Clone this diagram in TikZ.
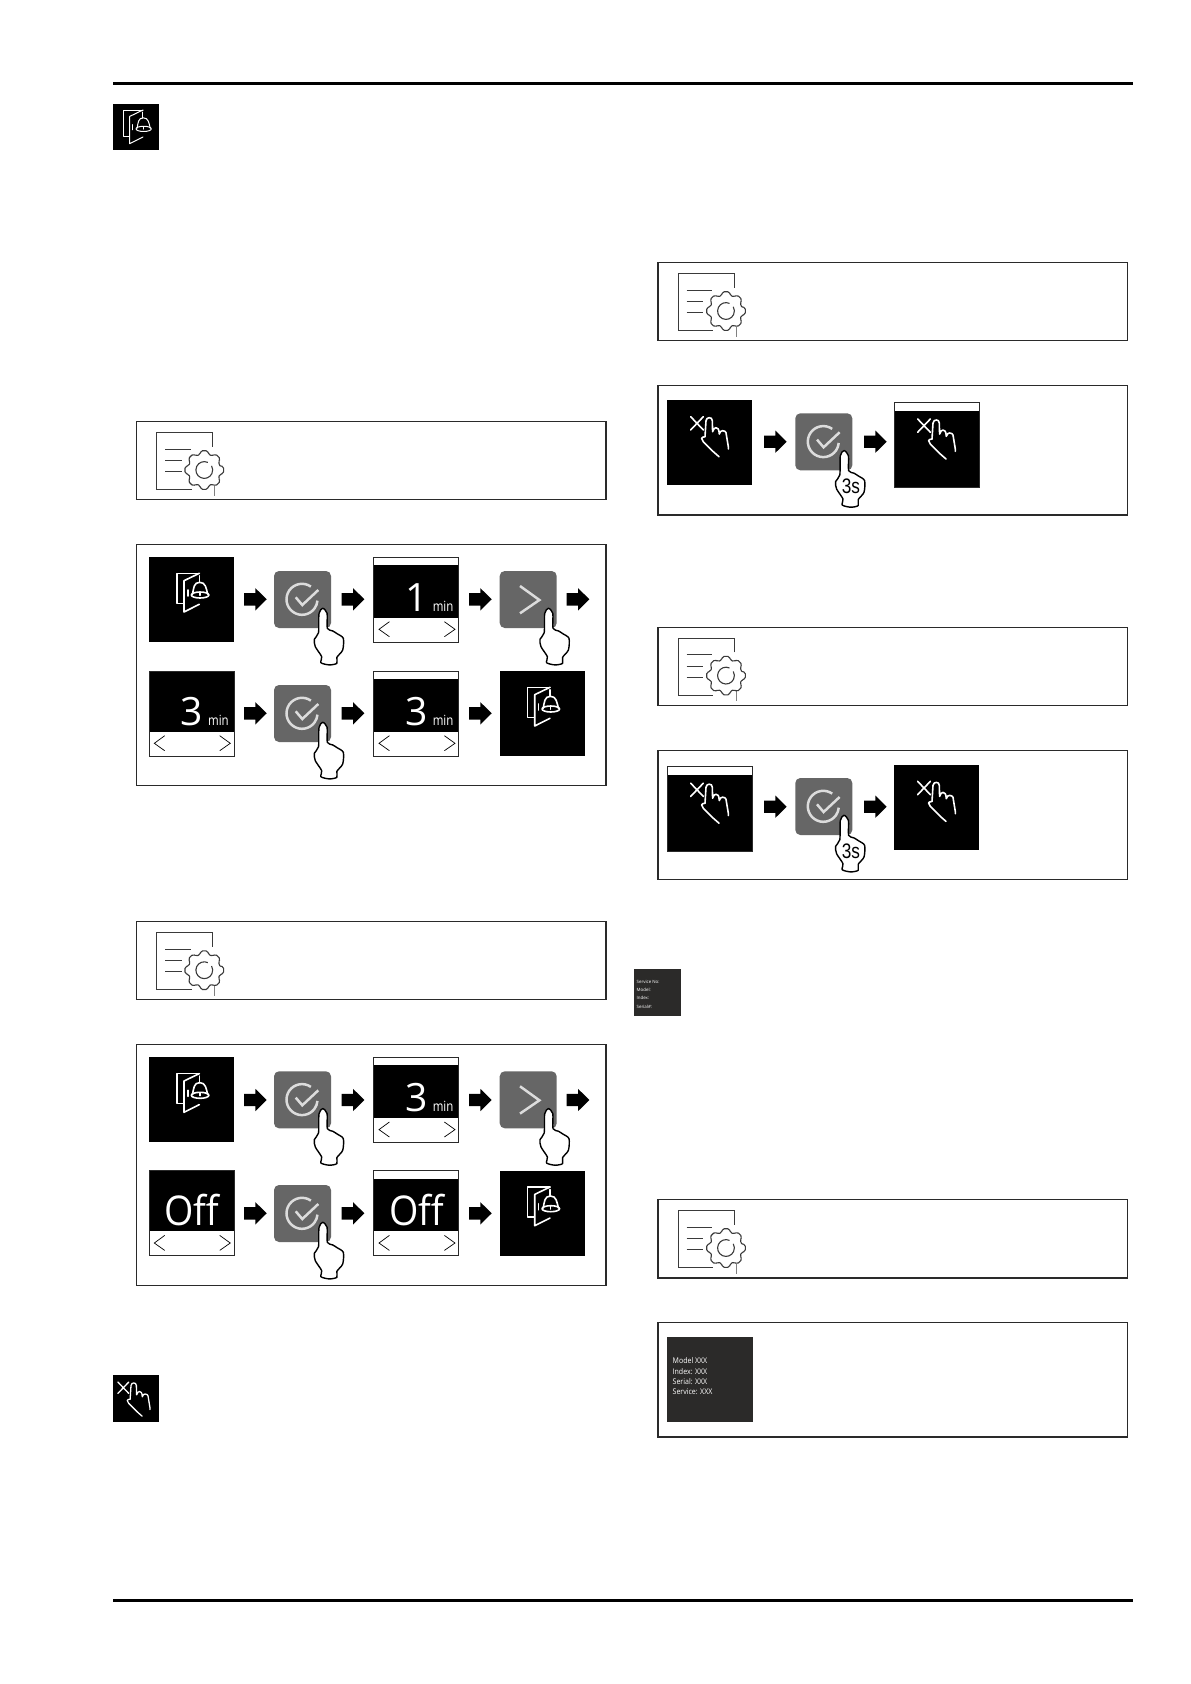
\documentclass[tikz,border=0pt]{standalone}
\usepackage{fontspec}
\setmainfont{Open Sans}
\newfontfamily\labelfont{Liberation Sans}
\definecolor{tilegray}{HTML}{666666}
\definecolor{checkline}{HTML}{DCDCDC}
\definecolor{boxline}{HTML}{2A2A2A}
\definecolor{iconline}{HTML}{3A3A3A}
\definecolor{infotile}{HTML}{2B2A29}
\newcommand{\iconlw}{1.6}
\newcommand{\ScreenBase}[1]{%
  \fill[black] (0,0) rectangle (85,85);
  \fill[white] (0,60.7) rectangle (85,85);
  \ifnum#1=1 \fill[white] (0,0) rectangle (85,8); \fi
  \draw[boxline,line width=.7] (0,0) rectangle (85,85);
  \draw[line width=.7,line join=miter] (15.7,64.7) -- (5.3,72.3) -- (15.7,79.7);
  \draw[line width=.7,line join=miter] (70.7,64.7) -- (81.3,72.3) -- (70.7,79.7);
}
\tikzset{
  x=1pt,y=-1pt,
  framebox/.style={draw=boxline,line width=1.1,fill=white},
  whitetext/.style={text=white,inner sep=0pt,outer sep=0pt},
  whiteicon/.style={draw=white,line width=\iconlw pt,line cap=round,line join=round},
  pics/blockarrow/.style={code={
    \fill[black] (0,-6.2) -- (11.3,-6.2) -- (11.3,-11.2) -- (22.7,0) -- (11.3,11.2) -- (11.3,6.2) -- (0,6.2) -- cycle;
  }},
  pics/docgear/.style={code={
    \draw[iconline,line width=1] (76,25) -- (76,10.7) -- (20,10.7) -- (20,67.7) -- (55.3,67.7);
    \draw[iconline,line width=1] (28.7,27.3) -- (54.3,27.3) (28.7,39) -- (45.3,39) (28.7,50) -- (45.3,50);
    \draw[gray,line width=.5] (78,64) -- (78,74);
    \begin{scope}[shift={(68,48.3)}]
      \draw[iconline,line width=1.1,fill=white,rounded corners=1.6] (-15:16.2)
        \foreach \a in {0,45,...,315}{ -- ({\a-10}:19.6) -- ({\a+10}:19.6) -- ({\a+15}:16.2) -- ({\a+30}:16.2) };
      \draw[iconline,line width=1.1] (-65:8.4) arc[start angle=-65,delta angle=-325,radius=8.4];
    \end{scope}
  }},
  pics/doorbell/.style={code={
    \draw[whiteicon] (6.6,30) -- (0,30) -- (0,0) -- (22.6,0);
    \draw[whiteicon] (22.6,0) -- (7.3,7.4) -- (7.3,38.7) -- (22.6,31);
    \draw[whiteicon] (11,16.7) -- (11,22.7);
    \draw[whiteicon] (22.6,2.5) -- (22.6,9.2);
    \draw[whiteicon] (15.8,21) .. controls (17,15) and (17,9) .. (23,9) .. controls (29,9) and (29.5,15) .. (31,21);
    \draw[whiteicon] (23.4,21.7) ellipse[x radius=8.8,y radius=3];
    \draw[whiteicon] (23.2,19.6) -- (23.2,22);
  }},
  pics/handoff/.style={code={
    \draw[whiteicon] (23.3,16.6) -- (36.1,30) (36.1,16.6) -- (23.3,30);
    \draw[whiteicon] (37.7,36.7) -- (38.7,20.7) .. controls (39,18.5) and (40.5,17.7) .. (42,17.7) .. controls (43.5,17.7) and (45,18.5) .. (45,20.7) -- (45.3,31.7)
       .. controls (46,29) and (47.5,27.7) .. (48.7,27.7) .. controls (50.5,27.7) and (51.7,29) .. (52,34)
       .. controls (52.5,31.5) and (54,30.7) .. (55.3,30.7) .. controls (57,30.7) and (58.3,31.5) .. (58.7,32.7) -- (61,46.7) -- (61,49);
    \draw[whiteicon] (37.7,36.7) .. controls (36,37) and (34.3,37.3) .. (34.3,38.3) .. controls (34.3,39.5) and (35,40.7) .. (36,41.7) -- (46,51.7) -- (51.7,56.7);
  }},
  pics/handpress/.style={code={
    \draw[black,line width=1.4,fill=white,line join=round] plot[smooth cycle,tension=.45] coordinates {
      (48.7,37.3) (45,42.5) (44.5,61.7) (40.3,68.3) (41.3,75.7) (47.7,85.7) (46.9,91.7) (55.3,93.9)
      (62.9,92.3) (62.9,86.3) (68.7,79) (69.3,67.3) (63.3,62.8) (58.7,59.9) (53.3,57.3) (53.1,42.3)};
  }},
  pics/checktile/.style={code={
    \fill[tilegray,rounded corners=5] (0,0) rectangle (57,57);
    \draw[checkline,line width=2.5] (28,28.3) ++(-55:15.5) arc[start angle=-55,delta angle=-300,radius=15.5];
    \draw[checkline,line width=2.5,line join=miter] (21.7,26.3) -- (28.3,34) -- (44.3,19);
  }},
  pics/nexttile/.style={code={
    \fill[tilegray,rounded corners=5] (0,0) rectangle (57,57);
    \draw[checkline,line width=2.5,line join=miter] (20.3,15) -- (39.7,29) -- (20.3,42.3);
  }},
  pics/bellscreen/.style={code={
    \fill[black] (0,0) rectangle (85,85);
    \pic at (27.7,16.3) {doorbell};
  }},
  pics/numscreen/.style n args={2}{code={
    \ScreenBase{#1}
    \node[whitetext,anchor=base] (digit) at (43,54) {\fontsize{39}{39}\selectfont #2};
    \node[whitetext,anchor=base east] (unit) at (79.7,54) {\scalebox{.82}[1]{\fontsize{14}{14}\selectfont min}};
  }},
  pics/offscreen/.style={code={
    \ScreenBase{#1}
    \node[whitetext,anchor=base] (word) at (43,54.3) {\scalebox{.92}[1]{\fontsize{41}{41}\selectfont Off}};
  }},
  pics/xscreen/.style={code={
    \fill[black] (0,0) rectangle (85,85);
    \ifnum#1=1 \fill[white] (0,0) rectangle (85,8.5); \draw[boxline,line width=.7] (0,0) rectangle (85,85); \fi
    \pic at (0,0) {handoff};
  }},
  pics/threesec/.style={code={
    \pic at (0,0) {handpress};
    \node[inner sep=0pt,outer sep=0pt,text=black] (secs) at (55.7,73) {\labelfont\scalebox{.82}[1]{\fontsize{21}{21}\selectfont 3s}};
  }}
}
\begin{document}
\begin{tikzpicture}
\useasboundingbox (0,0) rectangle (1191,1684);
\fill[white] (0,0) rectangle (1191,1684);
% page rules
\draw[black,line width=3] (113.3,83.3) -- (1133.3,83.3);
\draw[black,line width=3] (113.3,1600.3) -- (1133.3,1600.3);
% marginal icons
\fill[black] (113.3,103.8) rectangle (159,149.8);
\begingroup
\renewcommand{\iconlw}{1}
\pic[scale=.87] (margbell) at (123.3,110) {doorbell};
\fill[black] (113.3,1374.6) rectangle (159,1421.8);
\renewcommand{\iconlw}{1.3}
\pic[scale=.85] (marghand) at (98.1,1367.9) {handoff};
\endgroup
\fill[infotile] (634,969) rectangle (681,1016);
\foreach \ty/\tx [count=\i] in {981.7/Service No:,990/Model:,998.3/Index:,1007.3/Serial\#:}
  \node[whitetext,anchor=west] (svc\i) at (636.7,\ty) {\fontsize{4.4}{5}\selectfont \tx};
% left gear boxes
\draw[framebox] (136.3,421.7) rectangle (606,499.3);
\pic (gearA) at (136.3,421.7) {docgear};
\draw[framebox] (136.3,921.9) rectangle (606,999.7);
\pic (gearB) at (136.3,921.9) {docgear};
% set 1
\draw[framebox] (136.3,544.7) rectangle (606,785.3);
\pic (a1) at (149,557) {bellscreen};
\pic at (244,599.3) {blockarrow};
\pic (a2) at (274,571) {checktile};
\pic (a2h) at (274,571) {handpress};
\pic at (341.7,599.3) {blockarrow};
\pic (a3) at (373.7,557) {numscreen={1}{1}};
\pic at (469,599.3) {blockarrow};
\pic (a4) at (499.7,571) {nexttile};
\pic (a4h) at (499.7,571) {handpress};
\pic at (566.7,599.3) {blockarrow};
\pic (a5) at (149,671) {numscreen={0}{3}};
\pic at (244,713.3) {blockarrow};
\pic (a6) at (274,685) {checktile};
\pic (a6h) at (274,685) {handpress};
\pic at (341.7,713.3) {blockarrow};
\pic (a7) at (373.7,671) {numscreen={1}{3}};
\pic at (469,713.3) {blockarrow};
\pic (a8) at (499.7,671) {bellscreen};
% set 2
\draw[framebox] (136.3,1044.7) rectangle (606,1285.7);
\pic (b1) at (149,1057.3) {bellscreen};
\pic at (244,1100) {blockarrow};
\pic (b2) at (274,1071.3) {checktile};
\pic (b2h) at (274,1071.3) {handpress};
\pic at (341.7,1100) {blockarrow};
\pic (b3) at (373.7,1057.3) {numscreen={1}{3}};
\pic at (469,1100) {blockarrow};
\pic (b4) at (499.7,1071.3) {nexttile};
\pic (b4h) at (499.7,1071.3) {handpress};
\pic at (566.7,1100) {blockarrow};
\pic (b5) at (149,1170.7) {offscreen={0}};
\pic at (244,1213.3) {blockarrow};
\pic (b6) at (274,1185) {checktile};
\pic (b6h) at (274,1185) {handpress};
\pic at (341.7,1213.3) {blockarrow};
\pic (b7) at (373.7,1170.7) {offscreen={1}};
\pic at (469,1213.3) {blockarrow};
\pic (b8) at (499.7,1170.7) {bellscreen};
% right gear boxes
\draw[framebox] (658,262.7) rectangle (1127.3,340.3);
\pic (gearC) at (658,262.7) {docgear};
\draw[framebox] (658,627.3) rectangle (1127.3,705.3);
\pic (gearD) at (658,627.3) {docgear};
\draw[framebox] (658,1199.7) rectangle (1127.3,1278);
\pic (gearE) at (658,1199.7) {docgear};
% set 3
\draw[framebox] (658,385.3) rectangle (1127.3,515);
\pic (c1) at (667.3,400) {xscreen={0}};
\pic at (764,441.7) {blockarrow};
\pic (c2) at (795.3,413.3) {checktile};
\pic (c2h) at (795.3,413.3) {threesec};
\pic at (864,441.7) {blockarrow};
\pic (c3) at (894.3,402.3) {xscreen={1}};
% set 4
\draw[framebox] (658,750.3) rectangle (1127.3,879.3);
\pic (d1) at (667.3,766.5) {xscreen={1}};
\pic at (764,806.7) {blockarrow};
\pic (d2) at (795.3,778) {checktile};
\pic (d2h) at (795.3,778) {threesec};
\pic at (864,806.7) {blockarrow};
\pic (d3) at (894.3,764.7) {xscreen={0}};
% set 5
\draw[framebox] (658,1322.7) rectangle (1127.3,1437);
\fill[infotile] (667.3,1337) rectangle (752.7,1422);
\foreach \ty/\tx [count=\i] in {1361/Model XXX,1371.3/Index: XXX,1381.3/Serial: XXX,1391.7/Service: XXX}
  \node[whitetext,anchor=west] (info\i) at (672.7,\ty) {\scalebox{.9}[1]{\fontsize{7.8}{9}\selectfont \tx}};
\end{tikzpicture}
\end{document}
